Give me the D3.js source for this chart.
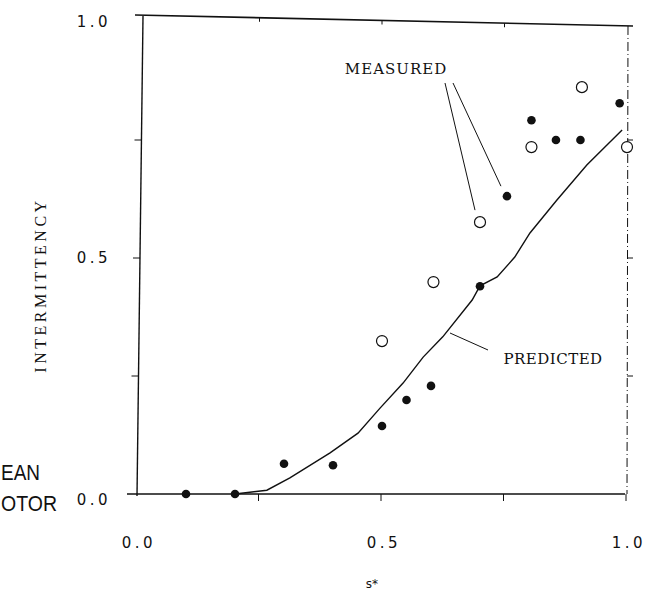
<!DOCTYPE html>
<html>
<head>
<meta charset="utf-8">
<script src="https://cdn.jsdelivr.net/npm/d3@7"></script>
<style>
  body { margin: 0; background: #fff; }
  svg { display: block; }
</style>
</head>
<body>
<svg id="main" width="650" height="597"></svg>
<script>
// measured intermittency, filled symbols
measuredFilledX = [0.10, 0.20, 0.30, 0.40, 0.50, 0.55, 0.60, 0.70, 0.755, 0.805, 0.855, 0.905, 0.985];
measuredFilledY = [0.00, 0.00, 0.064, 0.061, 0.144, 0.199, 0.229, 0.44, 0.631, 0.792, 0.75, 0.75, 0.828];

// measured intermittency, open symbols
measuredOpenX = [0.50, 0.605, 0.70, 0.805, 0.908, 1.00];
measuredOpenY = [0.324, 0.449, 0.576, 0.735, 0.862, 0.735];

// predicted curve
predictedX = [0.20, 0.265, 0.312, 0.394, 0.451, 0.496, 0.543, 0.584, 0.624, 0.684, 0.70, 0.735, 0.771, 0.802, 0.857, 0.918, 0.99];
predictedY = [0.00, 0.008, 0.034, 0.087, 0.129, 0.182, 0.235, 0.29, 0.333, 0.411, 0.441, 0.46, 0.502, 0.553, 0.623, 0.697, 0.771];

xTicks = [0, 0.5, 1];
xTickLabels = ["0.0", "0.5", "1.0"];
yTicks = [0, 0.5, 1];
yTickLabels = ["0.0", "0.5", "1.0"];
minorTicks = [0.25, 0.5, 0.75];

var svg = d3.select("svg#main");

var x = d3.scaleLinear().domain([0, 1]).range([137, 627]);
var y = d3.scaleLinear().domain([0, 1]).range([494, 22]);

var ink = "#111";

// frame: left axis (slightly skewed like the scan), bottom axis, top line, dash-dot right edge
svg.append("line").attr("x1", x(0)).attr("y1", y(0) + 2).attr("x2", x(0) + 6).attr("y2", y(1) - 6)
  .attr("stroke", ink).attr("stroke-width", 1.4);
svg.append("line").attr("x1", x(0) - 10).attr("y1", y(0)).attr("x2", x(1) - 2).attr("y2", y(0))
  .attr("stroke", ink).attr("stroke-width", 1.6);
svg.append("line").attr("x1", x(0) - 2).attr("y1", y(1) - 7).attr("x2", x(1) + 6).attr("y2", y(1) + 4)
  .attr("stroke", ink).attr("stroke-width", 1.6);
svg.append("line").attr("x1", x(1) + 1).attr("y1", y(1) + 4).attr("x2", x(1)).attr("y2", y(0))
  .attr("stroke", ink).attr("stroke-width", 1).attr("stroke-dasharray", "9,3,1,3");

// small tick marks
svg.selectAll("line.bt").data(minorTicks.concat([1])).enter().append("line")
  .attr("x1", function(d) { return x(d) - 1; }).attr("x2", function(d) { return x(d) - 1; })
  .attr("y1", y(0)).attr("y2", y(0) + 7)
  .attr("stroke", ink).attr("stroke-width", 1);
svg.selectAll("line.lt").data(minorTicks).enter().append("line")
  .attr("x1", function(d) { return x(0) + 6 * d - 7; }).attr("x2", function(d) { return x(0) + 6 * d; })
  .attr("y1", function(d) { return y(d); }).attr("y2", function(d) { return y(d); })
  .attr("stroke", ink).attr("stroke-width", 1);
svg.selectAll("line.tt").data(minorTicks).enter().append("line")
  .attr("x1", function(d) { return x(d); }).attr("x2", function(d) { return x(d); })
  .attr("y1", function(d) { return y(1) - 7 + 11 * d; }).attr("y2", function(d) { return y(1) - 3 + 11 * d; })
  .attr("stroke", ink).attr("stroke-width", 1);
svg.selectAll("line.rt").data([0.25, 0.5, 0.75]).enter().append("line")
  .attr("x1", x(1)).attr("x2", x(1) + 6)
  .attr("y1", function(d) { return y(d); }).attr("y2", function(d) { return y(d); })
  .attr("stroke", ink).attr("stroke-width", 1);

// tick labels
svg.selectAll("text.xl").data(xTicks).enter().append("text")
  .attr("x", function(d) { return x(d) + 2; }).attr("y", 548)
  .attr("text-anchor", "middle")
  .style("font-family", "DejaVu Sans").style("font-size", "15px").style("letter-spacing", "3.5px")
  .style("fill", ink)
  .text(function(d, i) { return xTickLabels[i]; });

svg.selectAll("text.yl").data(yTicks).enter().append("text")
  .attr("x", 111).attr("y", function(d, i) { return y(d) + (i === 0 ? 11 : 5); })
  .attr("text-anchor", "end")
  .style("font-family", "DejaVu Sans").style("font-size", "15px").style("letter-spacing", "3.5px")
  .style("fill", ink)
  .text(function(d, i) { return yTickLabels[i]; });

// axis titles
svg.append("text").attr("x", 372).attr("y", 588).attr("text-anchor", "middle")
  .style("font-family", "DejaVu Sans").style("font-size", "12px").style("fill", ink).text("s*");

svg.append("text").attr("transform", "translate(46,285) rotate(-90)").attr("text-anchor", "middle")
  .style("font-family", "Liberation Serif").style("font-size", "16px").style("letter-spacing", "3.5px")
  .style("fill", ink)
  .text("INTERMITTENCY");

// caption fragments from the neighbouring figure, as they show at the edge
svg.append("text").attr("x", 1).attr("y", 480)
  .attr("textLength", 39).attr("lengthAdjust", "spacingAndGlyphs")
  .style("font-family", "Liberation Sans").style("font-size", "22px").style("fill", ink).text("EAN");
svg.append("text").attr("x", 1).attr("y", 511)
  .attr("textLength", 56).attr("lengthAdjust", "spacingAndGlyphs")
  .style("font-family", "Liberation Sans").style("font-size", "22px").style("fill", ink).text("OTOR");

// predicted line
var pred = predictedX.map(function(d, i) { return [d, predictedY[i]]; });
var line = d3.line().x(function(d) { return x(d[0]); }).y(function(d) { return y(d[1]); });
svg.append("path").datum(pred).attr("d", line)
  .attr("fill", "none").attr("stroke", ink).attr("stroke-width", 1.4);

// measured points
svg.selectAll("circle.open").data(measuredOpenX).enter().append("circle")
  .attr("cx", function(d) { return x(d); })
  .attr("cy", function(d, i) { return y(measuredOpenY[i]); })
  .attr("r", 5.5).attr("fill", "#fff").attr("stroke", ink).attr("stroke-width", 1.2);

svg.selectAll("circle.filled").data(measuredFilledX).enter().append("circle")
  .attr("cx", function(d) { return x(d); })
  .attr("cy", function(d, i) { return y(measuredFilledY[i]); })
  .attr("r", 4.3).attr("fill", ink);

// annotations
svg.append("text").attr("x", 396).attr("y", 74).attr("text-anchor", "middle")
  .style("font-family", "DejaVu Serif").style("font-size", "15px").style("letter-spacing", "1px")
  .style("fill", ink).text("MEASURED");
svg.append("line").attr("x1", 445).attr("y1", 83).attr("x2", x(0.70) - 5).attr("y2", y(0.576) - 12)
  .attr("stroke", ink).attr("stroke-width", 1);
svg.append("line").attr("x1", 453).attr("y1", 83).attr("x2", x(0.755) - 6).attr("y2", y(0.631) - 10)
  .attr("stroke", ink).attr("stroke-width", 1);

svg.append("text").attr("x", 553).attr("y", 364).attr("text-anchor", "middle")
  .style("font-family", "DejaVu Serif").style("font-size", "15px").style("letter-spacing", "0.5px")
  .style("fill", ink).text("PREDICTED");
svg.append("line").attr("x1", 450).attr("y1", 333).attr("x2", 488).attr("y2", 350)
  .attr("stroke", ink).attr("stroke-width", 1);
</script>
</body>
</html>
